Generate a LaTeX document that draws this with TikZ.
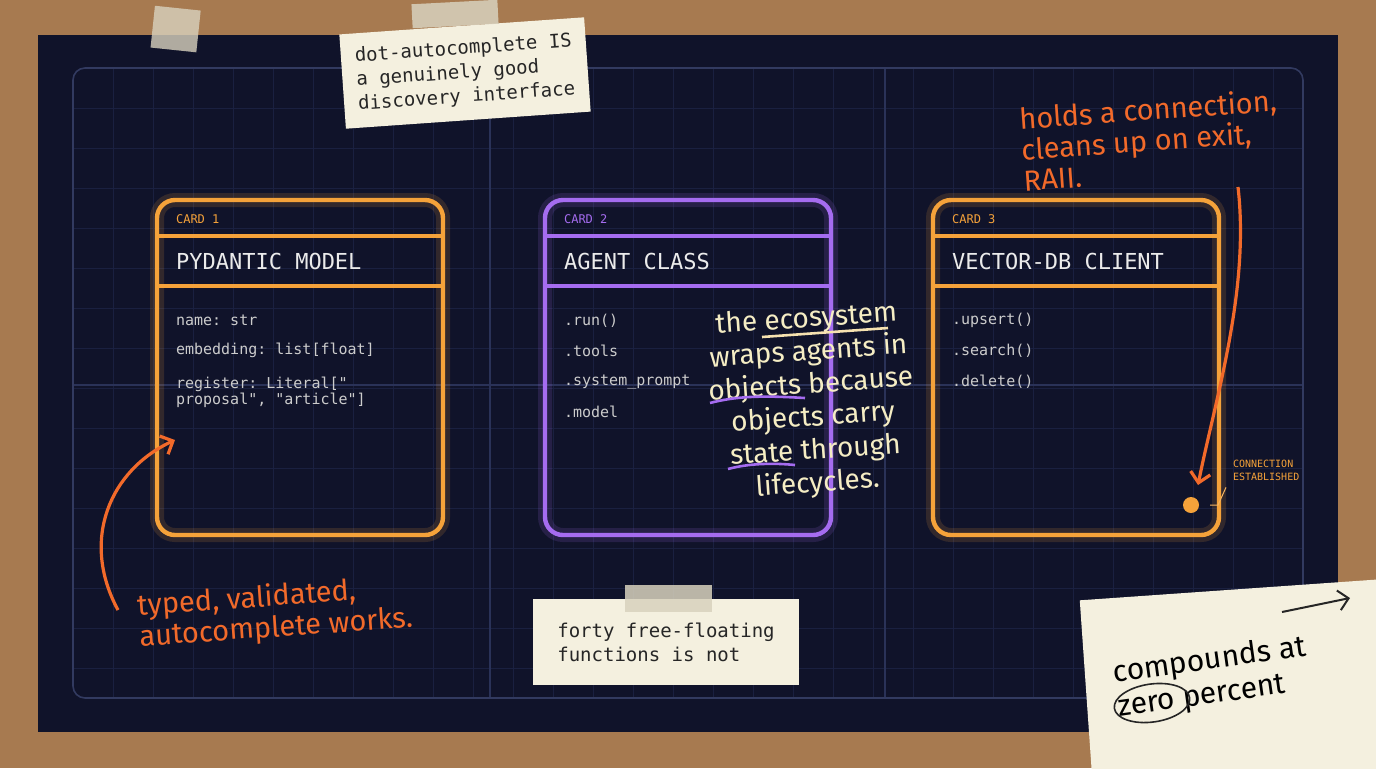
\documentclass[tikz,border=0pt]{standalone}
\usepackage{fontspec}
\setmonofont{DejaVu Sans Mono}
\newfontfamily\handfont{Fira Sans}
\usetikzlibrary{positioning,arrows.meta}
\definecolor{cork}{HTML}{A77A50}
\definecolor{board}{HTML}{10132A}
\definecolor{gridc}{HTML}{1A2040}
\definecolor{gridm}{HTML}{2A3258}
\definecolor{frame}{HTML}{323A60}
\definecolor{amber}{HTML}{F5A23A}
\definecolor{violet}{HTML}{A56CF0}
\definecolor{ink}{HTML}{F26A2A}
\definecolor{paper}{HTML}{F4F0DF}
\definecolor{tape}{HTML}{D8D2BE}
\definecolor{cream}{HTML}{F5EDC4}
\begin{document}
\begin{tikzpicture}[x=0.5pt,y=-0.5pt,
    card/.style={draw=#1,line width=2.2pt,rounded corners=9pt},
    tag/.style={font=\ttfamily\fontsize{6}{7}\selectfont,anchor=west},
    title/.style={font=\ttfamily\fontsize{11}{12}\selectfont,text=white!92!black,anchor=west},
    field/.style={font=\ttfamily\fontsize{7.5}{8}\selectfont,text=white!80!black,anchor=west,align=left},
    note/.style={fill=paper,inner sep=7pt,font=\ttfamily\fontsize{9.5}{12}\selectfont,align=left,text=black!85},
    hand/.style={font=\handfont\fontsize{14.5}{15.5}\selectfont,text=ink,align=left},
    scrawl/.style={draw=ink,line width=1.6pt,-{Straight Barb[length=5pt]}}]
    \useasboundingbox (0,0) rectangle (1376,768);
    \fill[cork] (0,0) rectangle (1376,768);
    \fill[board] (38,35) rectangle (1338,732);
    % grid
    \begin{scope}
        \clip (73,68) rectangle (1303,698);
        \foreach \x in {113,153,...,1303} \draw[gridc,line width=0.3pt] (\x,68) -- (\x,698);
        \foreach \y in {108,148,...,698} \draw[gridc,line width=0.3pt] (73,\y) -- (1303,\y);
        \foreach \x in {490,885} \draw[gridm,line width=0.6pt] (\x,68) -- (\x,698);
        \draw[gridm,line width=0.6pt] (73,385) -- (1303,385);
    \end{scope}
    \draw[frame,line width=0.8pt,rounded corners=6pt] (73,68) rectangle (1303,698);

    % cards
    \foreach \c/\x/\col/\n/\name in {1/157/amber/1/PYDANTIC MODEL,2/545/violet/2/AGENT CLASS,3/933/amber/3/VECTOR-DB CLIENT}{
        \draw[card=\col,line width=7pt,opacity=0.15] (\x,200) rectangle ++(286,335);
        \draw[card=\col] (\x,200) rectangle ++(286,335);
        \draw[\col,line width=1.6pt] (\x,236) -- ++(286,0) (\x,286) -- ++(286,0);
        \node[tag,text=\col] (tag\c) at (\x+12,219) {CARD \n};
        \node[title] (title\c) at (\x+12,261) {\name};
    }
    \node[field] (f1a) at (169,320) {name: str};
    \node[field] (f1b) at (169,350) {embedding: list[float]};
    \node[field] (f1c) at (169,392) {register: Literal["\\proposal", "article"]};
    \foreach \t [count=\i] in {.run(),.tools,.system\_prompt,.model}
        \node[field] (f2\i) at (557,290+30.5*\i) {\t};
    \foreach \t [count=\i] in {.upsert(),.search(),.delete()}
        \node[field] (f3\i) at (945,290+30.5*\i) {\t};

    % connection marker
    \node[circle,fill=amber,inner sep=0pt,minimum size=8pt] (dot) at (1191,505) {};
    \node[tag,text=amber,align=left,font=\ttfamily\fontsize{5}{6.5}\selectfont] (conn) at (1226,470) {CONNECTION\\ESTABLISHED};
    \coordinate (tick) at (1210,505);
    \draw[amber!80,line width=0.5pt] (tick) -- ++(8,0) -- (conn.south west);

    % sticky notes
    \node[note,rotate=4] (n1) at (465,73) {dot-autocomplete IS\\a genuinely good\\discovery interface};
    \fill[tape,opacity=0.85,rotate around={3:(455,14)}] (412,2) rectangle (498,26);
    \fill[tape,opacity=0.8,rotate around={-6:(175,35)}] (152,8) rectangle (198,50);
    \node[note,minimum width=266pt/2,minimum height=43pt] (n2) at (666,642) {forty free-floating\\functions is not};
    \fill[tape,opacity=0.85] (625,585) rectangle (712,612);
    \fill[paper,rotate around={4:(1230,670)}] (1085,590) rectangle (1420,800);
    \node[font=\handfont\fontsize{15}{17}\selectfont,rotate=8,align=left] (n3) at (1212,678) {compounds at\\zero percent};
    \draw[black!85,line width=0.8pt,rotate around={8:(1152,703)}] (1152,703) ellipse (38 and 19);
    \coordinate (n3a) at (1282,612);
    \coordinate (n3b) at (1350,598);
    \draw[black!85,line width=1pt,-{Straight Barb[length=5pt]}] (n3a) -- (n3b);

    % scrawled notes
    \node[hand,rotate=4] (raii) at (1150,140) {holds a connection,\\cleans up on exit,\\RAII.};
    \coordinate (raiiTip) at (1198,485);
    \draw[scrawl] (1238,187) .. controls (1250,290) and (1215,400) .. (raiiTip);
    \node[hand,rotate=4] (typed) at (275,613) {typed, validated,\\autocomplete works.};
    \coordinate (typedTip) at (175,440);
    \draw[scrawl] (118,610) .. controls (80,540) and (110,470) .. (typedTip);
    \node[hand,text=cream,rotate=4,align=center,font=\handfont\fontsize{14}{16.5}\selectfont] (eco) at (812,402) {the ecosystem\\wraps agents in\\objects because\\objects carry\\state through\\lifecycles.};
    \draw[cream!90!orange,line width=1.3pt] (762,337) -- (888,328);
    \draw[violet,line width=1.3pt] (710,403) .. controls (740,395) and (770,396) .. (805,398);
    \draw[violet,line width=1.3pt] (728,469) .. controls (750,463) and (775,463) .. (795,465);
\end{tikzpicture}
\end{document}
